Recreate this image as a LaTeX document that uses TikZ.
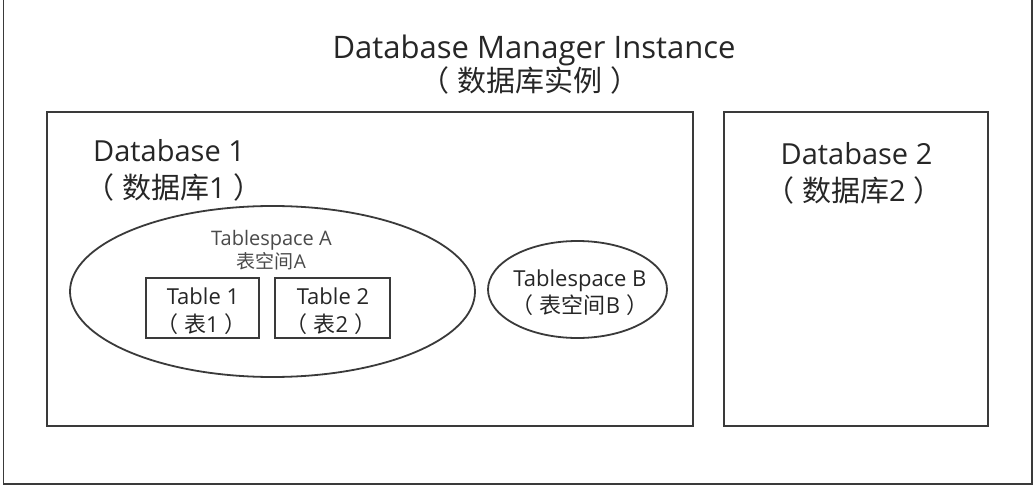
\documentclass[tikz,border=0pt]{standalone}
\usepackage{fontspec}
\setmainfont{Open Sans}
\newfontfamily\cjk{Noto Sans CJK SC}
\usetikzlibrary{shapes.geometric}
\definecolor{ink}{HTML}{262626}
\definecolor{lin}{HTML}{3A3A3A}
\definecolor{soft}{HTML}{4A4A4A}
\newcommand{\lpar}{{\cjk （}\hspace{0.28em}}
\newcommand{\rpar}{\hspace{0.28em}{\cjk ）}}
\tikzset{
  box/.style={draw=lin, line width=1.8pt, rectangle, inner sep=0pt, outer sep=0pt},
  oval/.style={draw=lin, line width=1.8pt, ellipse, inner sep=0pt, outer sep=0pt},
  txt/.style={text=ink, inner sep=0pt, anchor=base},
  fA/.style={font=\fontsize{31}{37}\selectfont},
  fB/.style={font=\fontsize{29}{35}\selectfont},
  fC/.style={font=\fontsize{22}{26}\selectfont},
  fD/.style={font=\fontsize{20}{24}\selectfont},
  fE/.style={font=\fontsize{19}{23}\selectfont},
}
\begin{document}
\begin{tikzpicture}[x=1pt,y=-1pt]
\fill[white] (0,0) rectangle (1035,486);
\useasboundingbox (0,0) rectangle (1035,486);

% containers
\node[box, minimum width=1028.5pt, minimum height=494pt] (inst) at (517.75,237) {};
\node[box, minimum width=646pt, minimum height=314pt] (db1) at (370,269) {};
\node[box, minimum width=264pt, minimum height=314pt] (db2) at (856,269) {};
\node[oval, minimum width=405pt, minimum height=171pt] (tsA) at (272.5,291.5) {};
\node[oval, minimum width=179pt, minimum height=97pt] (tsB) at (577.5,289.5) {};
\node[box, minimum width=113pt, minimum height=60pt] (t1) at (202.5,308) {};
\node[box, minimum width=115pt, minimum height=60pt] (t2) at (332.5,308) {};

% labels
\node[txt, fA] (instL1) at (534,59) {Database Manager Instance};
\node[txt, fB] (instL2) at (530,92) {\lpar{\cjk 数据库实例}\rpar};

\node[txt, fB, anchor=base west] (db1L1) at (93,162) {Database 1};
\node[txt, fB] (db1L2) at (174,199) {\lpar{\cjk 数据库}1\rpar};

\node[txt, fB] (db2L1) at (856.5,165) {Database 2};
\node[txt, fB] (db2L2) at (854,202) {\lpar{\cjk 数据库}2\rpar};

\node[txt, fD, text=soft] (tsAL1) at (271.5,245) {Tablespace A};
\node[txt, fE, text=soft] (tsAL2) at (271.5,269) {{\cjk 表空间}A};

\node[txt, fC] (t1L1) at (203,304) {Table 1};
\node[txt, fC] (t1L2) at (201.5,332) {\lpar{\cjk 表}1\rpar};
\node[txt, fC] (t2L1) at (333,304) {Table 2};
\node[txt, fC] (t2L2) at (331,332) {\lpar{\cjk 表}2\rpar};

\node[txt, fC] (tsBL1) at (580,286) {Tablespace B};
\node[txt, fC] (tsBL2) at (580,313) {\lpar{\cjk 表空间}B\rpar};
\end{tikzpicture}
\end{document}
